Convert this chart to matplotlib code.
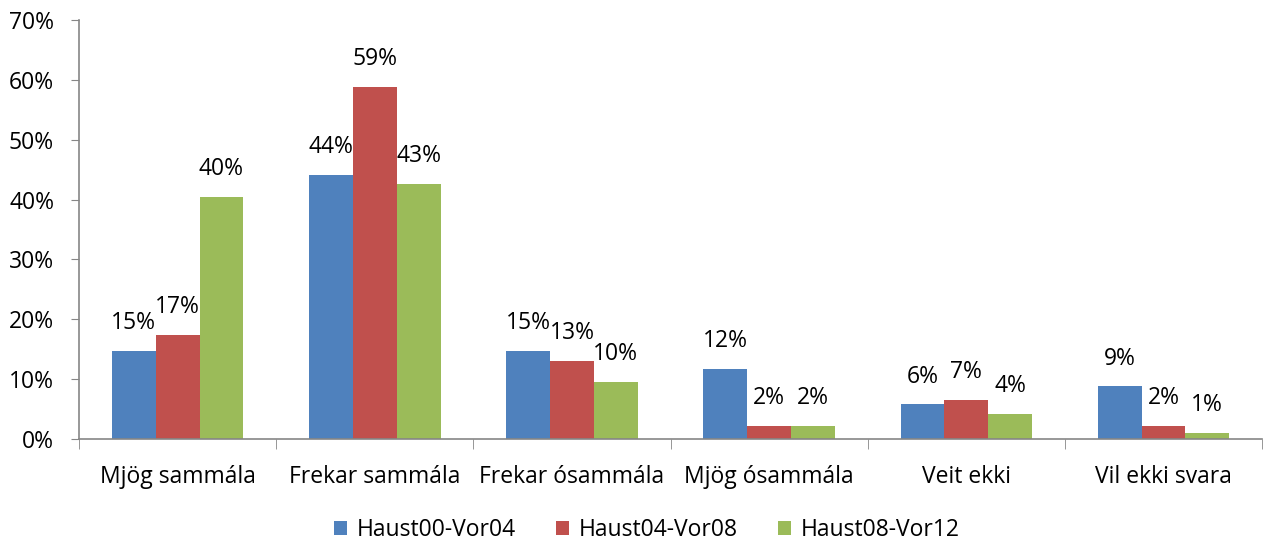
import numpy as np
import matplotlib
matplotlib.use("Agg")
import matplotlib.pyplot as plt
from matplotlib.ticker import FuncFormatter

plt.rcParams["font.family"] = ["Open Sans", "DejaVu Sans"]

categories = ["Mjög sammála", "Frekar sammála", "Frekar ósammála",
              "Mjög ósammála", "Veit ekki", "Vil ekki svara"]
series_names = ["Haust00-Vor04", "Haust04-Vor08", "Haust08-Vor12"]
haust00 = [14.7, 44.1, 14.7, 11.7, 5.8, 8.8]
haust04 = [17.4, 58.8, 13.0, 2.2, 6.6, 2.2]
haust08 = [40.4, 42.6, 9.5, 2.2, 4.2, 1.0]

COLORS = ["#4F81BD", "#C0504D", "#9BBB59"]
AXIS = "#868686"
FS = 16.5

fig = plt.figure(figsize=(12.64, 5.42), dpi=100)
ax = fig.add_axes([0.0625, 0.19, 0.936, 0.773])

x = np.arange(len(categories))
w = 1 / 4.5
for i, (vals, name) in enumerate(zip([haust00, haust04, haust08], series_names)):
    pos = x + (i - 1) * w
    ax.bar(pos, vals, width=w, color=COLORS[i], label=name, zorder=2)
    for p, v in zip(pos, vals):
        ax.annotate(f"{round(v):.0f}%", (p, v), xytext=(0, 20),
                    textcoords="offset points", ha="center", va="center",
                    fontsize=FS, color="black")

ax.set_xlim(-0.5, len(categories) - 0.5)
ax.set_ylim(0, 70)
ax.set_yticks(range(0, 71, 10))
ax.yaxis.set_major_formatter(FuncFormatter(lambda v, _: f"{v:.0f}%"))
ax.set_xticks(x)
ax.set_xticklabels(categories)
ax.set_xticks(np.arange(-0.5, len(categories)), minor=True)
ax.tick_params(axis="x", which="major", length=0, pad=19, labelsize=FS)
ax.tick_params(axis="x", which="minor", length=7, color=AXIS, direction="out")
ax.tick_params(axis="y", length=6, color=AXIS, labelsize=FS, pad=12)

for s in ["top", "right"]:
    ax.spines[s].set_visible(False)
for s in ["left", "bottom"]:
    ax.spines[s].set_color(AXIS)
    ax.spines[s].set_linewidth(1.2)

fig.legend(loc="lower center", bbox_to_anchor=(0.512, -0.038), ncol=3, frameon=False,
           fontsize=FS, handlelength=0.55, handleheight=0.55, handletextpad=0.45,
           columnspacing=1.75)

fig.savefig("out.png", dpi=100)
